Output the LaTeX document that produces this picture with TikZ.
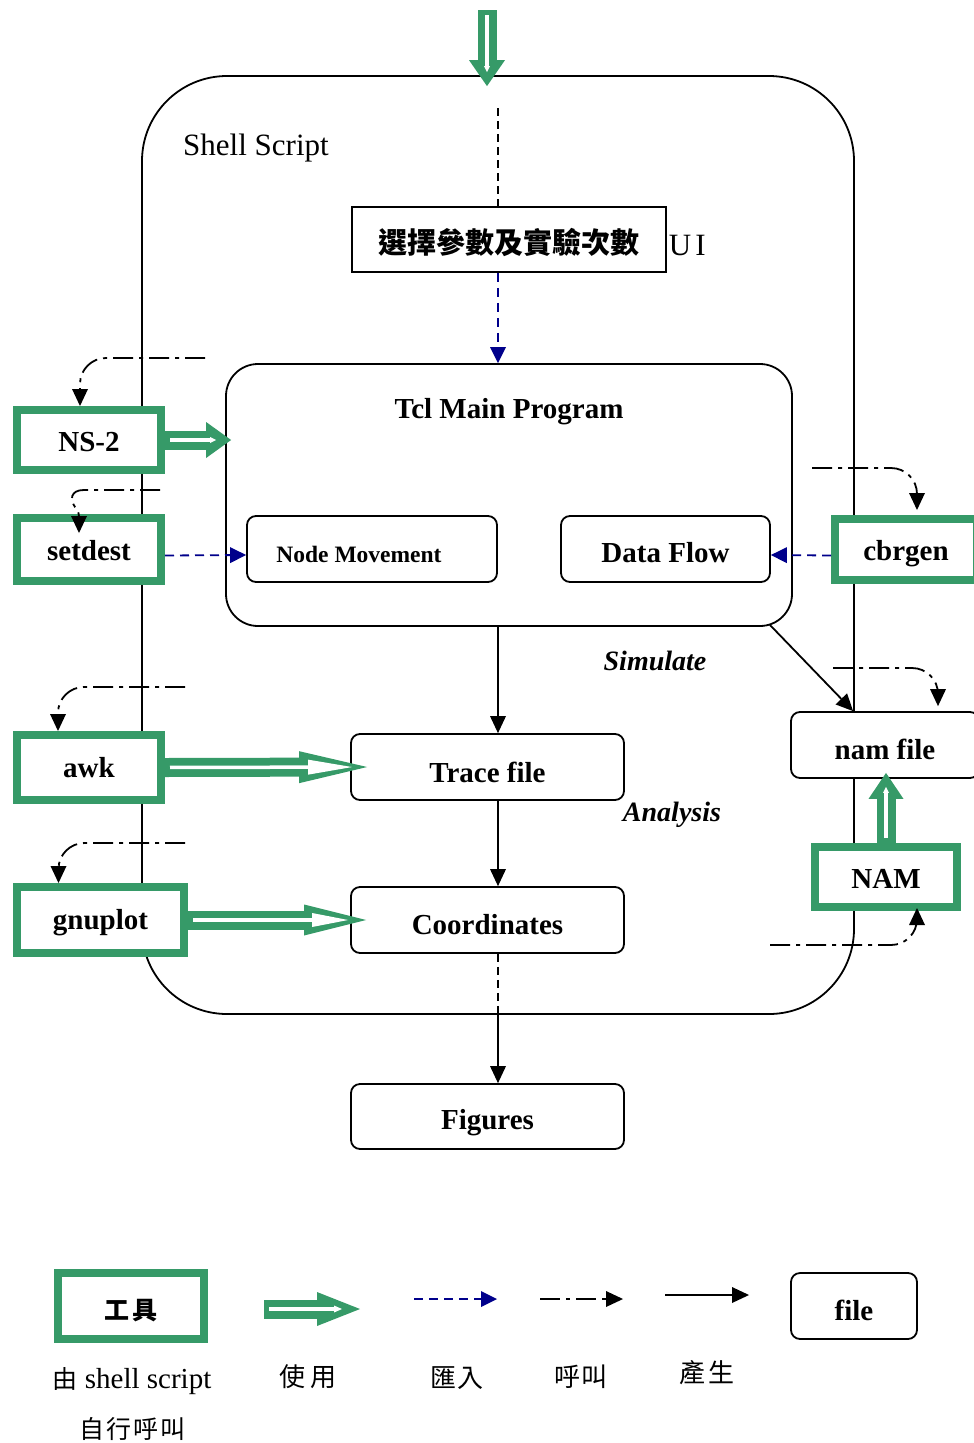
\documentclass[tikz,border=0pt]{standalone}
\usepackage{fontspec}
\setmainfont{Liberation Serif}
\newfontfamily\cjk{Noto Sans CJK TC}
\usetikzlibrary{arrows.meta,calc}
\definecolor{usegreen}{RGB}{54,154,104}
\definecolor{impblue}{RGB}{0,0,139}
\newcommand\lowerby[2]{\raisebox{-#1}[\height][\depth]{#2}}
\newcommand\fs[1]{\fontsize{#1}{#1}\selectfont}
\begin{document}
\begin{tikzpicture}[x=1pt,y=-1pt,line width=1.8pt,
  shellbox/.style={draw,line width=1.8pt,rounded corners=85pt,inner sep=0pt},
  plainbox/.style={draw,line width=1.8pt,fill=white,inner sep=0pt},
  filebox/.style={draw,line width=1.8pt,rounded corners=9pt,fill=white,inner sep=0pt,font=\fs{29}\bfseries},
  tool/.style={draw=usegreen,line width=8pt,fill=white,inner sep=0pt,font=\fs{29}\bfseries},
  lbl/.style={inner sep=0pt},
  gen/.style={line width=1.8pt,-{Triangle[length=17pt,width=16pt,line width=0pt]}},
  imp/.style={draw=impblue,line width=1.8pt,dash pattern=on 9pt off 6pt,-{Triangle[length=16pt,width=16pt,line width=0pt]}},
  call/.style={line width=1.8pt,dash pattern=on 20pt off 6pt on 4pt off 6pt,rounded corners=26pt,-{Triangle[length=17pt,width=16pt,line width=0pt]}},
  dsh/.style={line width=1.8pt,dash pattern=on 8pt off 5pt},
  usebody/.style 2 args={draw=usegreen,line width=19pt,-{Triangle[length=#1,width=#2,line width=0pt]}},
  usecore/.style n args={3}{draw=white,line width=3.5pt,shorten <=5pt,shorten >=#1,-{Triangle[length=#2,width=#3,line width=0pt]}}
]
\useasboundingbox (0,0) rectangle (974,1443);

% ---- frames and boxes
\node[shellbox,minimum width=712pt,minimum height=938pt] (shell) at (498,545) {};
\node[lbl,anchor=base,font=\fs{31}] (shelllbl) at (256,155) {Shell Script};

\node[plainbox,minimum width=314pt,minimum height=65pt,font=\cjk\bfseries\fs{29}] (ui) at (509,239.5) {\lowerby{3pt}{選擇參數及實驗次數}};
\node[lbl,anchor=base west,font=\fs{31}] (uilbl) at (668,255) {U\kern4pt I};

\node[plainbox,rounded corners=32pt,minimum width=566pt,minimum height=262pt] (tcl) at (509,495) {};
\node[lbl,anchor=base,font=\fs{29}\bfseries] (tcllbl) at (509,418) {Tcl Main Program};

\node[filebox,minimum width=250pt,minimum height=66pt,font=\fs{23.5}\bfseries] (nodemov) at (372,549) {\hspace*{-26pt}\lowerby{5pt}{Node Movement}};
\node[filebox,minimum width=209pt,minimum height=66pt] (dataflow) at (665.5,549) {\lowerby{4pt}{Data Flow}};
\node[filebox,minimum width=273pt,minimum height=66pt] (trace) at (487.5,767) {\lowerby{5pt}{Trace file}};
\node[filebox,minimum width=273pt,minimum height=66pt] (coords) at (487.5,920) {\lowerby{5pt}{Coordinates}};
\node[filebox,minimum width=273pt,minimum height=65pt] (figures) at (487.5,1116.5) {\lowerby{6pt}{Figures}};
\node[filebox,minimum width=188pt,minimum height=66pt] (namfile) at (885,745) {\lowerby{4pt}{nam file}};

\node[lbl,anchor=base,font=\fs{28}\bfseries\itshape] (simlbl) at (655,670) {Simulate};
\node[lbl,anchor=base,font=\fs{28}\bfseries\itshape] (analbl) at (672,821) {Analysis};

\node[tool,minimum width=144pt,minimum height=60pt] (ns2) at (89,440) {\lowerby{2pt}{NS-2}};
\node[tool,minimum width=144pt,minimum height=63pt] (setdest) at (89,549.5) {\lowerby{1.5pt}{setdest}};
\node[tool,minimum width=144pt,minimum height=65pt] (awk) at (89,767.5) {awk};
\node[tool,minimum width=167pt,minimum height=66pt] (gnuplot) at (100.5,920) {\lowerby{3pt}{gnuplot}};
\node[tool,minimum width=142pt,minimum height=61pt] (cbrgen) at (906,549.5) {\lowerby{4pt}{cbrgen}};
\node[tool,minimum width=142pt,minimum height=60pt] (nam) at (886,877) {\lowerby{1.5pt}{NAM}};

% ---- main flow
\coordinate (topin) at (487,10);
\draw[usebody={26pt}{36pt}] (topin) -- ($(topin |- shell.north)+(0,11)$);
\draw[usecore={14pt}{6pt}{6pt}] (topin) -- ($(topin |- shell.north)+(0,11)$);

\coordinate (col) at (498,108);
\draw[dsh] (col) -- (col |- ui.north);
\draw[imp] (col |- ui.south) -- (col |- tcl.north);
\draw[gen] (col |- tcl.south) -- (col |- trace.north);
\draw[gen] (col |- trace.south) -- (col |- coords.north);
\draw[dsh] (col |- coords.south) -- (col |- shell.south);
\draw[gen] (col |- shell.south) -- (col |- figures.north);
\draw[gen] ($(tcl.south east)+(-23,-2)$) -- ($(namfile.north west)+(63,0)$);

% ---- tools used
\draw[usebody={25pt}{36pt}] (ns2.east) -- ($(tcl.west |- ns2.east)+(6,0)$);
\draw[usecore={15pt}{6pt}{6pt}] (ns2.east) -- ($(tcl.west |- ns2.east)+(6,0)$);
\draw[usebody={68pt}{32pt}] (awk.east) -- ($(trace.west)+(17,0)$);
\draw[usecore={15pt}{44pt}{15pt}] (awk.east) -- ($(trace.west)+(17,0)$);
\draw[usebody={62pt}{31pt}] (gnuplot.east) -- ($(coords.west)+(16,0)$);
\draw[usecore={18pt}{36pt}{14pt}] (gnuplot.east) -- ($(coords.west)+(16,0)$);
\draw[usebody={26pt}{35pt}] (nam.north) -- ($(namfile.south -| nam.north)+(0,-6)$);
\draw[usecore={14pt}{6pt}{6pt}] (nam.north) -- ($(namfile.south -| nam.north)+(0,-6)$);

% ---- imports
\draw[imp] ($(setdest.east)+(0,6)$) -- ($(nodemov.west)+(0,6)$);
\draw[imp] ($(cbrgen.west)+(0,6)$) -- ($(dataflow.east)+(0,6)$);

% ---- calls from the shell script
\coordinate (ns2c) at (205,358);
\draw[call] (ns2c) -| ([xshift=-9pt]ns2.north);
\coordinate (setc) at (160,490);
\draw[call,rounded corners=0pt] (setc) -- (84,490) .. controls (70,490) and (70,500) .. (75,507) .. controls (79,512) and (79,514) .. (79,520) -- ([xshift=-10pt,yshift=-19pt]setdest.north);
\coordinate (cbrc) at (812,468);
\draw[call] (cbrc) -| ([xshift=11pt,yshift=5pt]cbrgen.north);
\coordinate (namfc) at (833,668);
\draw[call] (namfc) -| ([xshift=53pt,yshift=5pt]namfile.north);
\coordinate (namc) at (770,945);
\draw[call] (namc) -| ([xshift=31pt,yshift=3pt]nam.south);
\coordinate (awkc) at (185,687);
\draw[call] (awkc) -| ([xshift=-31pt]awk.north);
\coordinate (gnuc) at (185,843);
\draw[call] (gnuc) -| ([xshift=-42pt]gnuplot.north);

% ---- legend
\node[tool,minimum width=146pt,minimum height=66pt,font=\cjk\bfseries\fs{25}] (toollg) at (131,1306) {\lowerby{5pt}{工\kern3pt 具}};
\node[lbl,anchor=base west,font=\fs{29}] (toollbl1) at (52,1388) {{\cjk\fs{25}由}\kern7pt shell script};
\node[lbl,font=\cjk\fs{25}] (toollbl2) at (132,1429) {自\kern2pt 行\kern2pt 呼\kern2pt 叫};

\coordinate (lga) at (264,1309);
\coordinate (lgb) at (360,1309);
\draw[usebody={43pt}{34pt}] (lga) -- (lgb);
\draw[usecore={18pt}{8pt}{7pt}] (lga) -- (lgb);
\node[lbl,font=\cjk\fs{26}] (uselbl) at (308,1377) {使\kern5pt 用};

\coordinate (lia) at (414,1299);
\coordinate (lib) at (497,1299);
\draw[imp] (lia) -- (lib);
\node[lbl,font=\cjk\fs{26}] (implbl) at (457,1378) {匯\kern2pt 入};

\coordinate (lca) at (540,1299);
\coordinate (lcb) at (623,1299);
\draw[call] (lca) -- (lcb);
\node[lbl,font=\cjk\fs{26}] (calllbl) at (581,1377) {呼\kern2pt 叫};

\coordinate (lpa) at (665,1295);
\coordinate (lpb) at (749,1295);
\draw[gen] (lpa) -- (lpb);
\node[lbl,font=\cjk\fs{26}] (genlbl) at (707,1373) {產\kern3pt 生};

\node[filebox,minimum width=126pt,minimum height=66pt] (filelg) at (854,1306) {\lowerby{4pt}{file}};
\end{tikzpicture}
\end{document}
